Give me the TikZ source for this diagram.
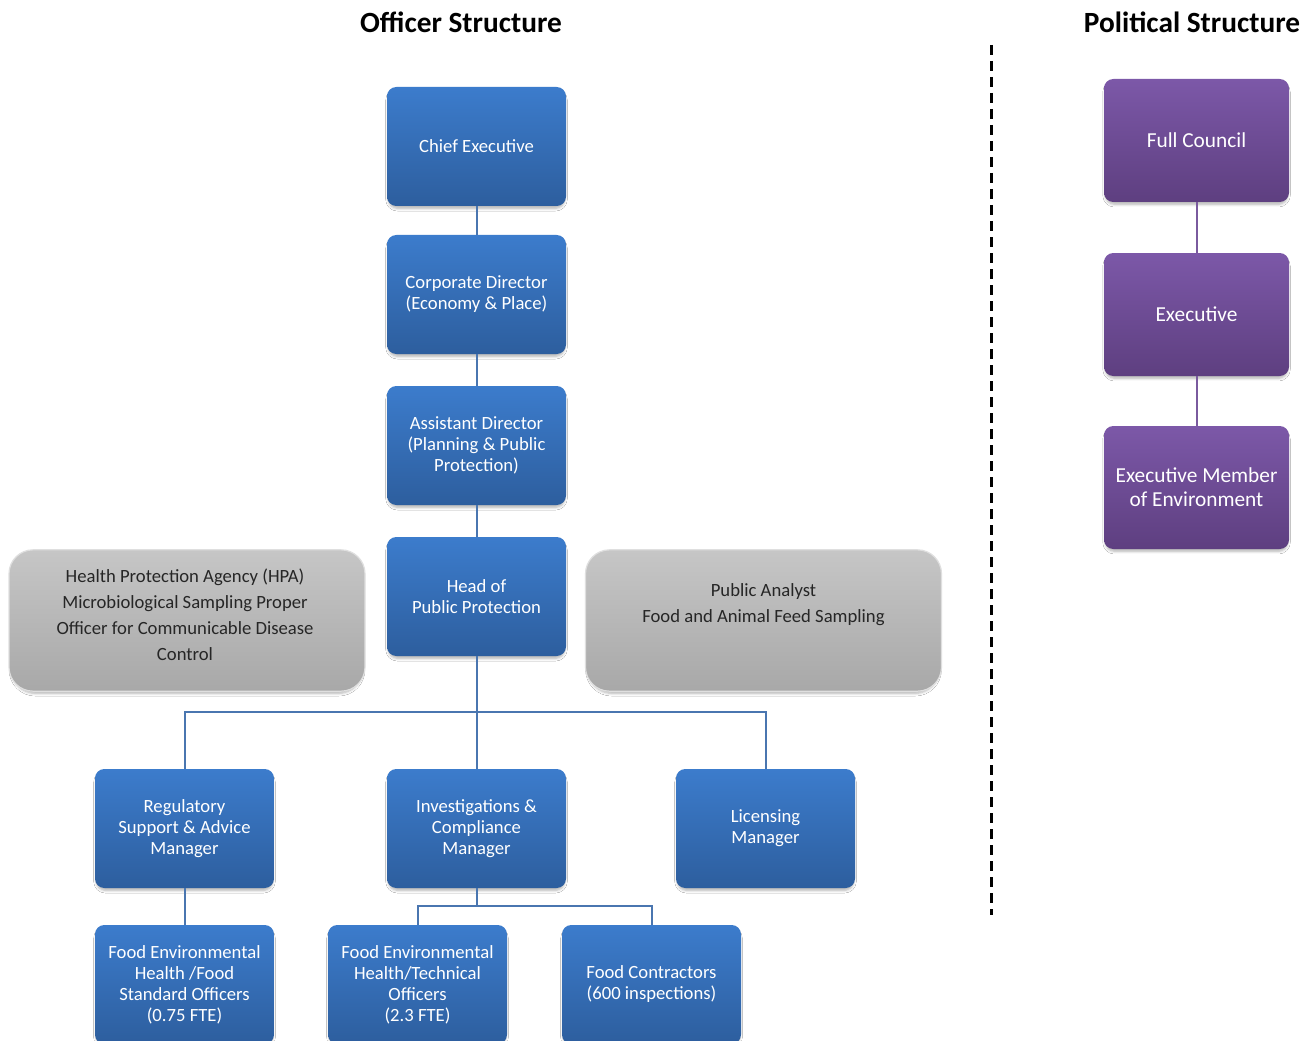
\documentclass[tikz,border=0pt]{standalone}
\usepackage{fontspec}
\setmainfont{Carlito}
\usetikzlibrary{shadows.blur,backgrounds}
\definecolor{bluetop}{HTML}{3C7CCC}
\definecolor{bluebot}{HTML}{2D5E9E}
\definecolor{purtop}{HTML}{7C58A8}
\definecolor{purbot}{HTML}{5E3F80}
\definecolor{greytop}{HTML}{C6C6C6}
\definecolor{greybot}{HTML}{A8A8A8}
\definecolor{bluelink}{HTML}{4A76B0}
\definecolor{purlink}{HTML}{7A5A9E}
\definecolor{greylink}{HTML}{B4B4B4}
\tikzset{
  x=0.75pt,y=-0.75pt,
  boxshadow/.style={blur shadow={shadow xshift=0pt,shadow yshift=-2.5pt,shadow blur radius=2pt,shadow blur steps=5,shadow opacity=30,shadow scale=0.985}},
  bluebox/.style={rectangle,rounded corners=7pt,minimum width=134.25pt,minimum height=89.25pt,
    top color=bluetop,bottom color=bluebot,draw=none,text=white,align=center,inner sep=2pt,
    font=\fontsize{14}{15.75}\selectfont,boxshadow},
  purbox/.style={rectangle,rounded corners=7pt,minimum width=138.75pt,minimum height=92.25pt,
    top color=purtop,bottom color=purbot,draw=none,text=white,align=center,inner sep=2pt,
    font=\fontsize{16}{18}\selectfont,boxshadow},
  greybox/.style={rectangle,rounded corners=18pt,minimum width=267pt,minimum height=106pt,
    top color=greytop,bottom color=greybot,draw=gray!25,line width=0.9pt,boxshadow},
  greytext/.style={text=black!85,align=center,font=\fontsize{14}{19.5}\selectfont},
  bluelinestyle/.style={draw=bluelink,line width=1.5pt},
  purlinestyle/.style={draw=purlink,line width=1.5pt},
  greylinestyle/.style={draw=greylink,line width=1.5pt},
  titlestyle/.style={font=\fontsize{22}{24}\selectfont\bfseries,text=black},
}
\begin{document}
\begin{tikzpicture}
\useasboundingbox[fill=white] (0,0) rectangle (1312,1041);
% titles
\node[titlestyle] (t1) at (461,22) {Officer Structure};
\node[titlestyle] (t2) at (1192,22) {Political Structure};
% dashed separator
\coordinate (d1) at (991,45);
\coordinate (d2) at (991,915);
\draw[line width=2.25pt,dash pattern=on 7.5pt off 4.5pt] (d1) -- (d2);
% officer chain
\node[bluebox] (ce) at (476.5,146.5) {Chief Executive};
\node[bluebox] (cd) at (476.5,294.5) {Corporate Director\\(Economy \& Place)};
\node[bluebox] (ad) at (476.5,445.5) {Assistant Director\\(Planning \& Public\\Protection)};
% grey boxes
\node[greybox] (hpa) at (187,620.5) {};
\node[greytext] (hpat) at (185,615) {Health Protection Agency (HPA)\\Microbiological Sampling Proper\\Officer for Communicable Disease\\Control};
\node[greybox] (pa) at (763.5,620.5) {};
\node[greytext] (pat) at (763.5,605) {Public Analyst\\Food and Animal Feed Sampling};
\node[bluebox] (hp) at (476.5,596.5) {Head of\\Public Protection};
% managers
\node[bluebox] (reg) at (184.5,828.5) {Regulatory\\Support \& Advice\\Manager};
\node[bluebox] (inv) at (476.5,828.5) {Investigations \&\\Compliance\\Manager};
\node[bluebox] (lic) at (765.5,828.5) {Licensing\\Manager};
% officers
\node[bluebox] (fes) at (184.5,984.5) {Food Environmental\\Health /Food\\Standard Officers\\(0.75 FTE)};
\node[bluebox] (fet) at (417.5,984.5) {Food Environmental\\Health/Technical\\Officers\\(2.3 FTE)};
\node[bluebox] (fc) at (651.5,984.5) {Food Contractors\\(600 inspections)};
% political
\node[purbox] (fcl) at (1196.5,140.5) {Full Council};
\node[purbox] (ex) at (1196.5,314.5) {Executive};
\node[purbox] (em) at (1196.5,487.5) {Executive Member\\of Environment};
% connectors
\coordinate (gl) at (476.5,674);
\coordinate (bar) at (476.5,712);
\coordinate (bar2) at (476.5,906);
\begin{pgfonlayer}{background}
\draw[greylinestyle] (hpa.center |- gl) -- (pa.center |- gl);
\end{pgfonlayer}
\draw[bluelinestyle] (ce.south) -- (cd.north);
\draw[bluelinestyle] (cd.south) -- (ad.north);
\draw[bluelinestyle] (ad.south) -- (hp.north);
\draw[bluelinestyle] (hp.south) -- (inv.north);
\draw[bluelinestyle] (reg.north) -- (reg.north |- bar) -- (lic.north |- bar) -- (lic.north);
\draw[bluelinestyle] (reg.south) -- (fes.north);
\draw[bluelinestyle] (inv.south) -- (bar2);
\draw[bluelinestyle] (fet.north) -- (fet.north |- bar2) -- (fc.north |- bar2) -- (fc.north);
\draw[purlinestyle] (fcl.south) -- (ex.north);
\draw[purlinestyle] (ex.south) -- (em.north);
\end{tikzpicture}
\end{document}
